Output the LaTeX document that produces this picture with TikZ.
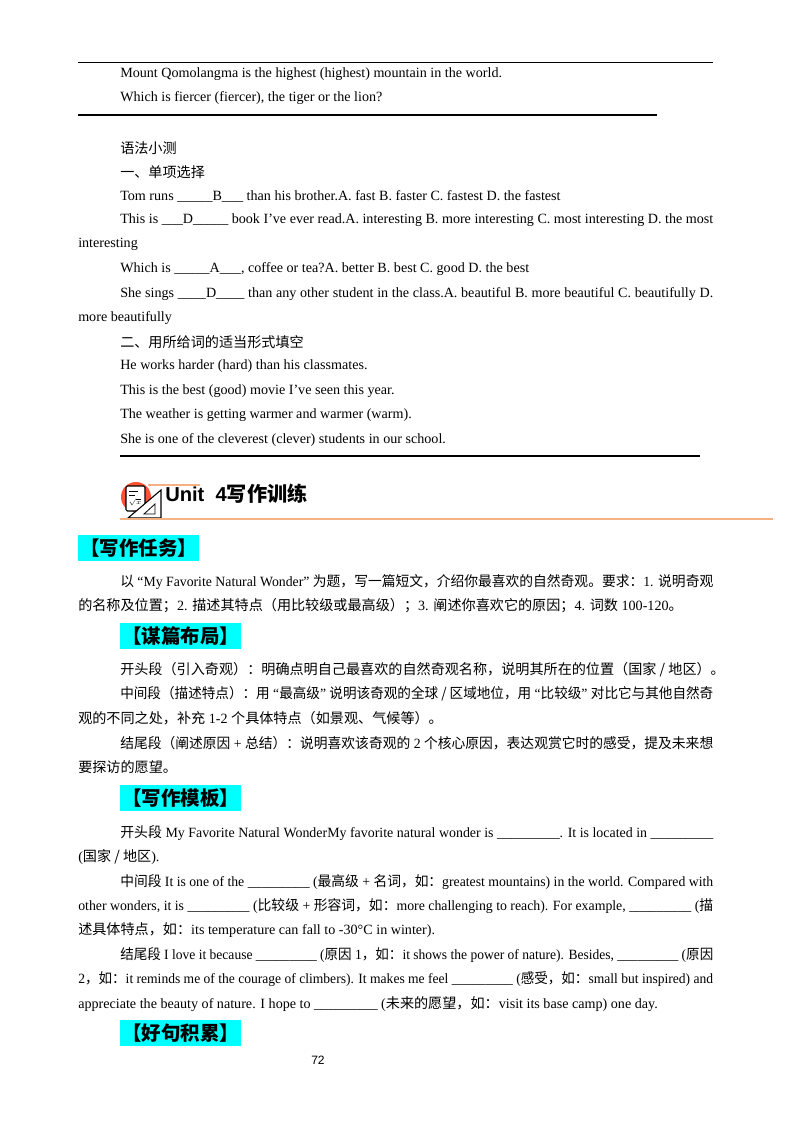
\documentclass[tikz,border=0pt]{standalone}
\usepackage{fontspec}
\usepackage{graphicx}
\setmainfont{Liberation Serif}
\newfontfamily\cjk{Noto Sans CJK SC}
\newfontfamily\sansf{Liberation Sans}
\newcommand\C[1]{{\cjk #1}}
\newlength\wa \setlength\wa{441.2pt}
\newlength\wb \setlength\wb{472.4pt}
\newcommand\Jw[2]{\setbox0\hbox{#2}\ifdim\wd0>#1\resizebox{#1}{\height}{\hbox{#2}}\else\hbox to #1{#2}\fi}
\newcommand\JA[1]{\Jw{\wa}{#1}}
\newcommand\JB[1]{\Jw{\wb}{#1}}
\definecolor{hcyan}{HTML}{00FFFF}
\definecolor{horange}{HTML}{F4B183}
\begin{document}
\begin{tikzpicture}[x=0.744pt,y=-0.744pt,
  t/.style={anchor=west,inner sep=0pt,font=\fontsize{10.5}{12}\selectfont},
  head/.style={anchor=west,fill=hcyan,inner xsep=1.5pt,inner ysep=2.5pt,font=\fontsize{14.5}{16}\selectfont\cjk\bfseries}]
\useasboundingbox (0,0) rectangle (800,1132);
\fill[white] (0,0) rectangle (800,1132);
\draw[line width=0.5pt] (78,62) -- (713,62);
\node[t] (l1) at (120,74) {Mount Qomolangma is the highest (highest) mountain in the world.};
\node[t] (l2) at (120,98) {Which is fiercer (fiercer), the tiger or the lion?};
\draw[line width=1.8pt] (78,115) -- (657,115);
\node[t] (l3) at (120,148) {\C{语法小测}};
\node[t] (l4) at (120,172) {\C{一、单项选择}};
\node[t] (l5) at (120,196) {Tom runs \_\_\_\_\_B\_\_\_ than his brother.A. fast B. faster C. fastest D. the fastest};
\node[t] (l6) at (120,220) {\JA{This is \_\_\_D\_\_\_\_\_ book I've ever read.A. interesting B. more interesting C. most interesting D. the most}};
\node[t] (l7) at (78,244) {interesting};
\node[t] (l8) at (120,269) {Which is \_\_\_\_\_A\_\_\_, coffee or tea?A. better B. best C. good D. the best};
\node[t] (l9) at (120,294) {\JA{She sings \_\_\_\_D\_\_\_\_ than any other student in the class.A. beautiful B. more beautiful C. beautifully D.}};
\node[t] (l10) at (78,318) {more beautifully};
\node[t] (l11) at (120,342) {\C{二、用所给词的适当形式填空}};
\node[t] (l12) at (120,366) {He works harder (hard) than his classmates.};
\node[t] (l13) at (120,391) {This is the best (good) movie I've seen this year.};
\node[t] (l14) at (120,415) {The weather is getting warmer and warmer (warm).};
\node[t] (l15) at (120,440) {She is one of the cleverest (clever) students in our school.};
\draw[line width=1.8pt] (120,456) -- (700,456);
% icon
\fill[red!70!orange!80] (136,497) circle (15);
\draw[fill=white,line width=0.8pt,rounded corners=1] (126,486) rectangle (145,511);
\draw[line width=0.6pt] (129,491)--(138,491) (129,495)--(135,495);
\node[inner sep=0pt,font=\fontsize{5}{5}\selectfont] (sq) at (135,502) {$\sqrt{x}$};
\draw[fill=white,line width=0.8pt] (161,490) -- (161,518) -- (128,518) -- cycle;
\draw[line width=0.6pt] (155,504) -- (155,514) -- (144,514) -- cycle;
\draw[horange,line width=1pt] (148,485) -- (200,485);
\node[anchor=west,inner sep=0pt,font=\fontsize{15}{17}\selectfont\sansf\bfseries] (unit) at (165,494) {Unit\ \ 4\C{写作训练}};
\draw[horange,line width=1pt] (120,519) -- (773,519);
\node[head] (h1) at (78,548) {【写作任务】};
\node[t] (p1) at (120,582) {\JA{\C{以} “My Favorite Natural Wonder” \C{为题，写一篇短文，介绍你最喜欢的自然奇观。要求：}1. \C{说明奇观}}};
\node[t] (p2) at (78,606) {\C{的名称及位置；}2. \C{描述其特点（用比较级或最高级）；}3. \C{阐述你喜欢它的原因；}4. \C{词数} 100-120\C{。}};
\node[head] (h2) at (120,636) {【谋篇布局】};
\node[t] (p3) at (120,670) {\C{开头段（引入奇观）：明确点明自己最喜欢的自然奇观名称，说明其所在的位置（国家 / 地区）。}};
\node[t] (p4) at (120,694) {\JA{\C{中间段（描述特点）：用} “\C{最高级}” \C{说明该奇观的全球 / 区域地位，用} “\C{比较级}” \C{对比它与其他自然奇}}};
\node[t] (p5) at (78,718) {\C{观的不同之处，补充} 1-2 \C{个具体特点（如景观、气候等）。}};
\node[t] (p6) at (120,743) {\JA{\C{结尾段（阐述原因} + \C{总结）：说明喜欢该奇观的} 2 \C{个核心原因，表达观赏它时的感受，提及未来想}}};
\node[t] (p7) at (78,767) {\C{要探访的愿望。}};
\node[head] (h3) at (120,798) {【写作模板】};
\node[t] (q1) at (120,833) {\JA{\C{开头段} My Favorite Natural WonderMy favorite natural wonder is \_\_\_\_\_\_\_\_\_. It is located in \_\_\_\_\_\_\_\_\_}};
\node[t] (q2) at (78,857) {(\C{国家 / 地区}).};
\node[t] (q3) at (120,882) {\JA{\C{中间段} It is one of the \_\_\_\_\_\_\_\_\_ (\C{最高级} + \C{名词，如：}greatest mountains) in the world. Compared with}};
\node[t] (q4) at (78,906) {\JB{other wonders, it is \_\_\_\_\_\_\_\_\_ (\C{比较级} + \C{形容词，如：}more challenging to reach). For example, \_\_\_\_\_\_\_\_\_ (\C{描}}};
\node[t] (q5) at (78,930) {\C{述具体特点，如：}its temperature can fall to -30°C in winter).};
\node[t] (q6) at (120,955) {\JA{\C{结尾段} I love it because \_\_\_\_\_\_\_\_\_ (\C{原因} 1\C{，如：}it shows the power of nature). Besides, \_\_\_\_\_\_\_\_\_ (\C{原因}}};
\node[t] (q7) at (78,979) {\JB{2\C{，如：}it reminds me of the courage of climbers). It makes me feel \_\_\_\_\_\_\_\_\_ (\C{感受，如：}small but inspired) and}};
\node[t] (q8) at (78,1004) {appreciate the beauty of nature. I hope to \_\_\_\_\_\_\_\_\_ (\C{未来的愿望，如：}visit its base camp) one day.};
\node[head] (h4) at (120,1033) {【好句积累】};
\node[anchor=center,inner sep=0pt,font=\fontsize{9}{10}\selectfont\sansf] (pg) at (318,1060) {72};
\end{tikzpicture}
\end{document}
